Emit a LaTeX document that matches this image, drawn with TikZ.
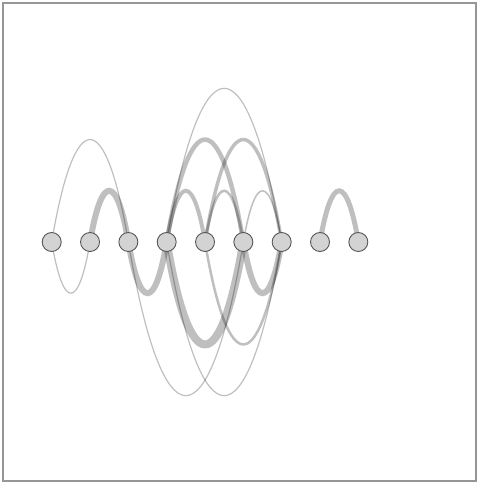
\documentclass[tikz,border=0pt]{standalone}
\usepackage{xcolor}
\usepackage{tikz}
\usetikzlibrary{calc}
\definecolor{nodeFill}{RGB}{211,211,211}
\definecolor{nodeEdge}{RGB}{85,85,85}
\definecolor{frameGray}{RGB}{150,150,150}
\tikzset{
  vertex/.style={circle, draw=nodeEdge, fill=nodeFill, line width=0.9pt, minimum size=19pt, inner sep=0pt},
  link/.style={draw=black, draw opacity=0.25},
}

\begin{document}
\begin{tikzpicture}[x=1pt,y=1pt]
\useasboundingbox (0,0) rectangle (477,483);
\draw[frameGray, line width=1.5pt] (3,2) rectangle (476,480);

\foreach \i in {0,...,8}
  \coordinate (n\i) at ({51.7+38.33*\i},241);

% arcs above
\draw[link, line width=1.2pt] (n0) .. controls +(23,136.6) and +(-23,136.6) .. (n2);
\draw[link, line width=6pt] (n1) .. controls +(11.5,68.3) and +(-11.5,68.3) .. (n2);
\draw[link, line width=1.2pt] (n3) .. controls +(34.5,204.9) and +(-34.5,204.9) .. (n6);
\draw[link, line width=4.5pt] (n3) .. controls +(23,136.6) and +(-23,136.6) .. (n5);
\draw[link, line width=4pt] (n3) .. controls +(11.5,68.3) and +(-11.5,68.3) .. (n4);
\draw[link, line width=3.5pt] (n4) .. controls +(23,136.6) and +(-23,136.6) .. (n6);
\draw[link, line width=2.5pt] (n4) .. controls +(11.5,68.3) and +(-11.5,68.3) .. (n5);
\draw[link, line width=1.5pt] (n5) .. controls +(11.5,68.3) and +(-11.5,68.3) .. (n6);
\draw[link, line width=5pt] (n7) .. controls +(11.5,68.3) and +(-11.5,68.3) .. (n8);

% arcs below
\draw[link, line width=1.2pt] (n0) .. controls +(11.5,-68.3) and +(-11.5,-68.3) .. (n1);
\draw[link, line width=6pt] (n2) .. controls +(11.5,-68.3) and +(-11.5,-68.3) .. (n3);
\draw[link, line width=1.2pt] (n2) .. controls +(34.5,-204.9) and +(-34.5,-204.9) .. (n5);
\draw[link, line width=8pt] (n3) .. controls +(23,-136.6) and +(-23,-136.6) .. (n5);
\draw[link, line width=1.2pt] (n3) .. controls +(34.5,-204.9) and +(-34.5,-204.9) .. (n6);
\draw[link, line width=2.5pt] (n4) .. controls +(23,-136.6) and +(-23,-136.6) .. (n6);
\draw[link, line width=6pt] (n5) .. controls +(11.5,-68.3) and +(-11.5,-68.3) .. (n6);

\foreach \i in {0,...,8}
  \node[vertex] (v\i) at (n\i) {};
\end{tikzpicture}
\end{document}
